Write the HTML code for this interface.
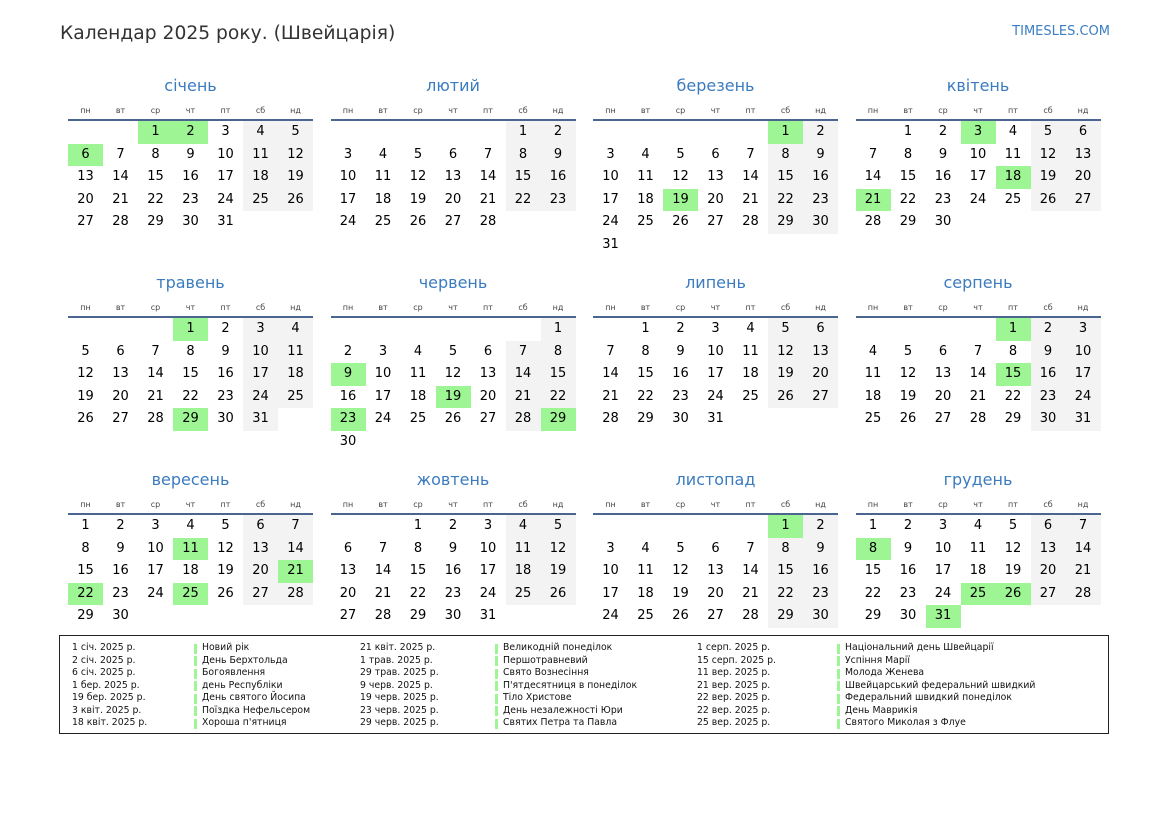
<!DOCTYPE html>
<html><head><meta charset="utf-8">
<style>
*{margin:0;padding:0;box-sizing:border-box}
body{width:1169px;height:827px;background:#fff;position:relative;overflow:hidden;font-family:"DejaVu Sans","Liberation Sans","Noto Sans CJK SC",sans-serif;color:#000}
.title{position:absolute;left:60px;top:21px;font-size:18.7px;line-height:26px;color:#333;white-space:nowrap}
.site{position:absolute;right:59px;top:23px;font-size:13px;line-height:18px;color:#3b7dc4;white-space:nowrap}
.m{position:absolute;width:245px}
.mt{height:24px;line-height:24px;text-align:center;font-size:16px;color:#3b7bbf;margin-bottom:5px}
.dw{display:grid;grid-template-columns:repeat(7,35px);height:15px;line-height:15px;font-size:8px;color:#444;text-align:center;margin-bottom:1px}
.ln{height:2px;background:#4a6590}
.g{display:grid;grid-template-columns:repeat(7,35px);grid-auto-rows:22.5px;font-size:13px;text-align:center}
.g b{font-weight:normal;line-height:22.5px;display:block}
.g b.w{background:#f3f3f3}
.g b.h{background:#9ef594}
.lg{position:absolute;left:59px;top:635px;width:1050px;height:99px;border:1px solid #222}
.c{position:absolute;top:642px;font-size:9.3px;line-height:12.5px;color:#111;white-space:nowrap}
.c div{height:12.5px}
.n div{position:relative;padding-left:8px}
.n div:before{content:"";position:absolute;left:0;top:1.5px;width:3px;height:10px;background:#9ef594}
</style></head><body>
<div class="title">Календар 2025 року. (Швейцарія)</div>
<div class="site">TIMESLES.COM</div>

<!-- Row 1 -->
<div class="m" style="left:68px;top:74px">
<div class="mt">січень</div>
<div class="dw"><span>пн</span><span>вт</span><span>ср</span><span>чт</span><span>пт</span><span>сб</span><span>нд</span></div>
<div class="ln"></div>
<div class="g"><b class="h" style="grid-column-start:3">1</b><b class="h">2</b><b>3</b><b class="w">4</b><b class="w">5</b><b class="h">6</b><b>7</b><b>8</b><b>9</b><b>10</b><b class="w">11</b><b class="w">12</b><b>13</b><b>14</b><b>15</b><b>16</b><b>17</b><b class="w">18</b><b class="w">19</b><b>20</b><b>21</b><b>22</b><b>23</b><b>24</b><b class="w">25</b><b class="w">26</b><b>27</b><b>28</b><b>29</b><b>30</b><b>31</b></div>
</div>

<div class="m" style="left:330.5px;top:74px">
<div class="mt">лютий</div>
<div class="dw"><span>пн</span><span>вт</span><span>ср</span><span>чт</span><span>пт</span><span>сб</span><span>нд</span></div>
<div class="ln"></div>
<div class="g"><b class="w" style="grid-column-start:6">1</b><b class="w">2</b><b>3</b><b>4</b><b>5</b><b>6</b><b>7</b><b class="w">8</b><b class="w">9</b><b>10</b><b>11</b><b>12</b><b>13</b><b>14</b><b class="w">15</b><b class="w">16</b><b>17</b><b>18</b><b>19</b><b>20</b><b>21</b><b class="w">22</b><b class="w">23</b><b>24</b><b>25</b><b>26</b><b>27</b><b>28</b></div>
</div>

<div class="m" style="left:593px;top:74px">
<div class="mt">березень</div>
<div class="dw"><span>пн</span><span>вт</span><span>ср</span><span>чт</span><span>пт</span><span>сб</span><span>нд</span></div>
<div class="ln"></div>
<div class="g"><b class="h" style="grid-column-start:6">1</b><b class="w">2</b><b>3</b><b>4</b><b>5</b><b>6</b><b>7</b><b class="w">8</b><b class="w">9</b><b>10</b><b>11</b><b>12</b><b>13</b><b>14</b><b class="w">15</b><b class="w">16</b><b>17</b><b>18</b><b class="h">19</b><b>20</b><b>21</b><b class="w">22</b><b class="w">23</b><b>24</b><b>25</b><b>26</b><b>27</b><b>28</b><b class="w">29</b><b class="w">30</b><b>31</b></div>
</div>

<div class="m" style="left:855.5px;top:74px">
<div class="mt">квітень</div>
<div class="dw"><span>пн</span><span>вт</span><span>ср</span><span>чт</span><span>пт</span><span>сб</span><span>нд</span></div>
<div class="ln"></div>
<div class="g"><b style="grid-column-start:2">1</b><b>2</b><b class="h">3</b><b>4</b><b class="w">5</b><b class="w">6</b><b>7</b><b>8</b><b>9</b><b>10</b><b>11</b><b class="w">12</b><b class="w">13</b><b>14</b><b>15</b><b>16</b><b>17</b><b class="h">18</b><b class="w">19</b><b class="w">20</b><b class="h">21</b><b>22</b><b>23</b><b>24</b><b>25</b><b class="w">26</b><b class="w">27</b><b>28</b><b>29</b><b>30</b></div>
</div>

<!-- Row 2 -->
<div class="m" style="left:68px;top:271px">
<div class="mt">травень</div>
<div class="dw"><span>пн</span><span>вт</span><span>ср</span><span>чт</span><span>пт</span><span>сб</span><span>нд</span></div>
<div class="ln"></div>
<div class="g"><b class="h" style="grid-column-start:4">1</b><b>2</b><b class="w">3</b><b class="w">4</b><b>5</b><b>6</b><b>7</b><b>8</b><b>9</b><b class="w">10</b><b class="w">11</b><b>12</b><b>13</b><b>14</b><b>15</b><b>16</b><b class="w">17</b><b class="w">18</b><b>19</b><b>20</b><b>21</b><b>22</b><b>23</b><b class="w">24</b><b class="w">25</b><b>26</b><b>27</b><b>28</b><b class="h">29</b><b>30</b><b class="w">31</b></div>
</div>

<div class="m" style="left:330.5px;top:271px">
<div class="mt">червень</div>
<div class="dw"><span>пн</span><span>вт</span><span>ср</span><span>чт</span><span>пт</span><span>сб</span><span>нд</span></div>
<div class="ln"></div>
<div class="g"><b class="w" style="grid-column-start:7">1</b><b>2</b><b>3</b><b>4</b><b>5</b><b>6</b><b class="w">7</b><b class="w">8</b><b class="h">9</b><b>10</b><b>11</b><b>12</b><b>13</b><b class="w">14</b><b class="w">15</b><b>16</b><b>17</b><b>18</b><b class="h">19</b><b>20</b><b class="w">21</b><b class="w">22</b><b class="h">23</b><b>24</b><b>25</b><b>26</b><b>27</b><b class="w">28</b><b class="h">29</b><b>30</b></div>
</div>

<div class="m" style="left:593px;top:271px">
<div class="mt">липень</div>
<div class="dw"><span>пн</span><span>вт</span><span>ср</span><span>чт</span><span>пт</span><span>сб</span><span>нд</span></div>
<div class="ln"></div>
<div class="g"><b style="grid-column-start:2">1</b><b>2</b><b>3</b><b>4</b><b class="w">5</b><b class="w">6</b><b>7</b><b>8</b><b>9</b><b>10</b><b>11</b><b class="w">12</b><b class="w">13</b><b>14</b><b>15</b><b>16</b><b>17</b><b>18</b><b class="w">19</b><b class="w">20</b><b>21</b><b>22</b><b>23</b><b>24</b><b>25</b><b class="w">26</b><b class="w">27</b><b>28</b><b>29</b><b>30</b><b>31</b></div>
</div>

<div class="m" style="left:855.5px;top:271px">
<div class="mt">серпень</div>
<div class="dw"><span>пн</span><span>вт</span><span>ср</span><span>чт</span><span>пт</span><span>сб</span><span>нд</span></div>
<div class="ln"></div>
<div class="g"><b class="h" style="grid-column-start:5">1</b><b class="w">2</b><b class="w">3</b><b>4</b><b>5</b><b>6</b><b>7</b><b>8</b><b class="w">9</b><b class="w">10</b><b>11</b><b>12</b><b>13</b><b>14</b><b class="h">15</b><b class="w">16</b><b class="w">17</b><b>18</b><b>19</b><b>20</b><b>21</b><b>22</b><b class="w">23</b><b class="w">24</b><b>25</b><b>26</b><b>27</b><b>28</b><b>29</b><b class="w">30</b><b class="w">31</b></div>
</div>

<!-- Row 3 -->
<div class="m" style="left:68px;top:468px">
<div class="mt">вересень</div>
<div class="dw"><span>пн</span><span>вт</span><span>ср</span><span>чт</span><span>пт</span><span>сб</span><span>нд</span></div>
<div class="ln"></div>
<div class="g"><b>1</b><b>2</b><b>3</b><b>4</b><b>5</b><b class="w">6</b><b class="w">7</b><b>8</b><b>9</b><b>10</b><b class="h">11</b><b>12</b><b class="w">13</b><b class="w">14</b><b>15</b><b>16</b><b>17</b><b>18</b><b>19</b><b class="w">20</b><b class="h">21</b><b class="h">22</b><b>23</b><b>24</b><b class="h">25</b><b>26</b><b class="w">27</b><b class="w">28</b><b>29</b><b>30</b></div>
</div>

<div class="m" style="left:330.5px;top:468px">
<div class="mt">жовтень</div>
<div class="dw"><span>пн</span><span>вт</span><span>ср</span><span>чт</span><span>пт</span><span>сб</span><span>нд</span></div>
<div class="ln"></div>
<div class="g"><b style="grid-column-start:3">1</b><b>2</b><b>3</b><b class="w">4</b><b class="w">5</b><b>6</b><b>7</b><b>8</b><b>9</b><b>10</b><b class="w">11</b><b class="w">12</b><b>13</b><b>14</b><b>15</b><b>16</b><b>17</b><b class="w">18</b><b class="w">19</b><b>20</b><b>21</b><b>22</b><b>23</b><b>24</b><b class="w">25</b><b class="w">26</b><b>27</b><b>28</b><b>29</b><b>30</b><b>31</b></div>
</div>

<div class="m" style="left:593px;top:468px">
<div class="mt">листопад</div>
<div class="dw"><span>пн</span><span>вт</span><span>ср</span><span>чт</span><span>пт</span><span>сб</span><span>нд</span></div>
<div class="ln"></div>
<div class="g"><b class="h" style="grid-column-start:6">1</b><b class="w">2</b><b>3</b><b>4</b><b>5</b><b>6</b><b>7</b><b class="w">8</b><b class="w">9</b><b>10</b><b>11</b><b>12</b><b>13</b><b>14</b><b class="w">15</b><b class="w">16</b><b>17</b><b>18</b><b>19</b><b>20</b><b>21</b><b class="w">22</b><b class="w">23</b><b>24</b><b>25</b><b>26</b><b>27</b><b>28</b><b class="w">29</b><b class="w">30</b></div>
</div>

<div class="m" style="left:855.5px;top:468px">
<div class="mt">грудень</div>
<div class="dw"><span>пн</span><span>вт</span><span>ср</span><span>чт</span><span>пт</span><span>сб</span><span>нд</span></div>
<div class="ln"></div>
<div class="g"><b>1</b><b>2</b><b>3</b><b>4</b><b>5</b><b class="w">6</b><b class="w">7</b><b class="h">8</b><b>9</b><b>10</b><b>11</b><b>12</b><b class="w">13</b><b class="w">14</b><b>15</b><b>16</b><b>17</b><b>18</b><b>19</b><b class="w">20</b><b class="w">21</b><b>22</b><b>23</b><b>24</b><b class="h">25</b><b class="h">26</b><b class="w">27</b><b class="w">28</b><b>29</b><b>30</b><b class="h">31</b></div>
</div>

<!-- Legend -->
<div class="lg"></div>
<div class="c" style="left:72px"><div>1 січ. 2025 р.</div><div>2 січ. 2025 р.</div><div>6 січ. 2025 р.</div><div>1 бер. 2025 р.</div><div>19 бер. 2025 р.</div><div>3 квіт. 2025 р.</div><div>18 квіт. 2025 р.</div></div>
<div class="c n" style="left:194px"><div>Новий рік</div><div>День Берхтольда</div><div>Богоявлення</div><div>день Республіки</div><div>День святого Йосипа</div><div>Поїздка Нефельсером</div><div>Хороша п'ятниця</div></div>
<div class="c" style="left:360px"><div>21 квіт. 2025 р.</div><div>1 трав. 2025 р.</div><div>29 трав. 2025 р.</div><div>9 черв. 2025 р.</div><div>19 черв. 2025 р.</div><div>23 черв. 2025 р.</div><div>29 черв. 2025 р.</div></div>
<div class="c n" style="left:495px"><div>Великодній понеділок</div><div>Першотравневий</div><div>Свято Вознесіння</div><div>П'ятдесятниця в понеділок</div><div>Тіло Христове</div><div>День незалежності Юри</div><div>Святих Петра та Павла</div></div>
<div class="c" style="left:697px"><div>1 серп. 2025 р.</div><div>15 серп. 2025 р.</div><div>11 вер. 2025 р.</div><div>21 вер. 2025 р.</div><div>22 вер. 2025 р.</div><div>22 вер. 2025 р.</div><div>25 вер. 2025 р.</div></div>
<div class="c n" style="left:837px"><div>Національний день Швейцарії</div><div>Успіння Марії</div><div>Молода Женева</div><div>Швейцарський федеральний швидкий</div><div>Федеральний швидкий понеділок</div><div>День Маврикія</div><div>Святого Миколая з Флуе</div></div>
</body></html>
